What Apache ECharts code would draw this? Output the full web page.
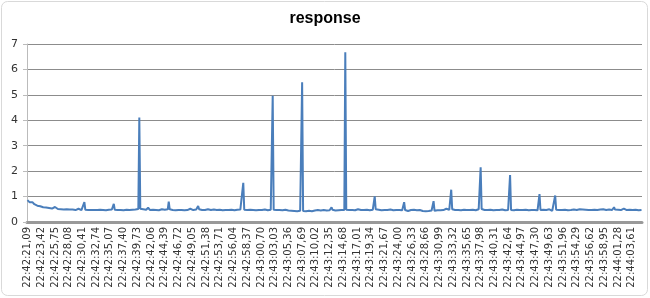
<!DOCTYPE html>
<html><head><meta charset="utf-8">
<script src="https://cdn.jsdelivr.net/npm/echarts@6/dist/echarts.min.js"></script>
<style>html,body{margin:0;padding:0;background:#fff}#c{width:650px;height:298px}</style>
</head><body><div id="c"></div>
<script>
var chartTitle = 'response';
var tickLabels = ['22:42:21,09','22:42:23,42','22:42:25,75','22:42:28,08','22:42:30,41','22:42:32,74','22:42:35,07','22:42:37,40','22:42:39,73','22:42:42,06','22:42:44,39','22:42:46,72','22:42:49,05','22:42:51,38','22:42:53,71','22:42:56,04','22:42:58,37','22:43:00,70','22:43:03,03','22:43:05,36','22:43:07,69','22:43:10,02','22:43:12,35','22:43:14,68','22:43:17,01','22:43:19,34','22:43:21,67','22:43:24,00','22:43:26,33','22:43:28,66','22:43:30,99','22:43:33,32','22:43:35,65','22:43:37,98','22:43:40,31','22:43:42,64','22:43:44,97','22:43:47,30','22:43:49,63','22:43:51,96','22:43:54,29','22:43:56,62','22:43:58,95','22:44:01,28','22:44:03,61'];
var samplesPerTick = 14;
var yTicks = [0,1,2,3,4,5,6,7];
var response = [
0.86,0.84,0.78,0.80,0.84,0.78,0.72,0.70,0.68,0.66,0.64,0.63,0.67,0.62,0.60,0.59,0.58,0.57,0.62,0.57,
0.56,0.55,0.55,0.54,0.54,0.53,0.53,0.52,0.59,0.52,0.52,0.51,0.51,0.50,0.50,0.50,0.52,0.49,0.49,0.50,
0.50,0.48,0.48,0.49,0.55,0.48,0.49,0.48,0.48,0.47,0.47,0.48,0.52,0.47,0.48,0.47,0.47,0.46,0.78,0.48,
0.49,0.48,0.47,0.46,0.46,0.47,0.48,0.47,0.47,0.46,0.46,0.47,0.47,0.48,0.48,0.46,0.46,0.47,0.47,0.46,
0.46,0.47,0.47,0.48,0.48,0.49,0.49,0.48,0.71,0.48,0.48,0.47,0.47,0.46,0.46,0.47,0.47,0.46,0.46,0.47,
0.47,0.48,0.48,0.47,0.47,0.46,0.46,0.48,0.48,0.49,0.49,0.50,0.50,0.51,4.11,0.52,0.52,0.50,0.50,0.55,
0.55,0.48,0.48,0.56,0.56,0.47,0.47,0.48,0.48,0.52,0.52,0.47,0.47,0.46,0.46,0.47,0.47,0.50,0.50,0.48,
0.48,0.49,0.49,0.50,0.80,0.50,0.50,0.47,0.47,0.48,0.48,0.46,0.46,0.47,0.47,0.50,0.50,0.47,0.47,0.46,
0.46,0.48,0.48,0.47,0.47,0.52,0.52,0.48,0.48,0.47,0.47,0.49,0.49,0.50,0.63,0.50,0.50,0.47,0.47,0.48,
0.48,0.47,0.47,0.50,0.50,0.48,0.48,0.47,0.47,0.49,0.49,0.50,0.50,0.47,0.47,0.48,0.48,0.47,0.47,0.46,
0.46,0.47,0.47,0.49,0.49,0.47,0.47,0.48,0.48,0.47,0.47,0.46,0.46,0.48,0.48,0.47,0.47,0.49,0.49,0.48,
1.54,0.48,0.48,0.47,0.47,0.50,0.50,0.48,0.48,0.47,0.47,0.48,0.48,0.46,0.46,0.47,0.47,0.48,0.48,0.47,
0.47,0.49,0.49,0.47,0.47,0.46,0.46,0.48,0.48,0.47,4.96,0.48,0.48,0.47,0.47,0.49,0.49,0.47,0.47,0.46,
0.46,0.47,0.47,0.48,0.48,0.45,0.45,0.46,0.46,0.44,0.44,0.43,0.43,0.45,0.45,0.42,0.42,0.44,0.44,0.43,
5.50,0.43,0.43,0.42,0.42,0.45,0.45,0.44,0.44,0.42,0.42,0.46,0.46,0.45,0.45,0.47,0.47,0.46,0.46,0.45,
0.45,0.47,0.47,0.46,0.46,0.45,0.45,0.46,0.46,0.52,0.58,0.48,0.48,0.45,0.45,0.44,0.44,0.46,0.46,0.47,
0.47,0.46,0.46,0.47,6.68,0.48,0.48,0.47,0.47,0.50,0.50,0.47,0.47,0.46,0.46,0.48,0.48,0.50,0.50,0.47,
0.47,0.46,0.46,0.47,0.47,0.48,0.48,0.47,0.47,0.46,0.46,0.48,0.48,0.49,1.01,0.50,0.50,0.48,0.48,0.47,
0.47,0.46,0.46,0.47,0.47,0.48,0.48,0.47,0.47,0.49,0.49,0.47,0.47,0.46,0.46,0.47,0.47,0.48,0.48,0.47,
0.47,0.46,0.46,0.47,0.78,0.47,0.47,0.43,0.43,0.46,0.46,0.47,0.47,0.48,0.48,0.47,0.47,0.46,0.46,0.47,
0.47,0.46,0.46,0.43,0.43,0.42,0.42,0.44,0.44,0.43,0.43,0.45,0.45,0.44,0.82,0.44,0.44,0.46,0.46,0.47,
0.47,0.46,0.46,0.47,0.47,0.48,0.48,0.52,0.52,0.48,0.48,0.49,1.27,0.50,0.50,0.47,0.47,0.46,0.46,0.47,
0.47,0.46,0.46,0.47,0.47,0.48,0.48,0.47,0.47,0.46,0.46,0.47,0.47,0.48,0.48,0.47,0.47,0.46,0.46,0.50,
0.50,0.51,2.15,0.51,0.51,0.47,0.47,0.46,0.46,0.47,0.47,0.48,0.48,0.47,0.47,0.46,0.46,0.47,0.47,0.48,
0.48,0.47,0.47,0.49,0.49,0.47,0.47,0.46,0.46,0.47,0.47,0.48,1.85,0.47,0.47,0.46,0.46,0.47,0.47,0.48,
0.48,0.47,0.47,0.46,0.46,0.47,0.47,0.48,0.48,0.47,0.47,0.46,0.46,0.47,0.47,0.48,0.48,0.47,0.47,0.46,
0.46,0.47,1.10,0.47,0.47,0.48,0.48,0.46,0.46,0.47,0.47,0.50,0.50,0.46,0.46,0.44,0.44,0.45,1.04,0.48,
0.48,0.47,0.47,0.46,0.46,0.47,0.47,0.48,0.48,0.47,0.47,0.46,0.46,0.47,0.47,0.48,0.48,0.49,0.49,0.47,
0.47,0.48,0.48,0.50,0.50,0.49,0.49,0.52,0.55,0.48,0.48,0.47,0.47,0.49,0.49,0.47,0.47,0.48,0.48,0.50,
0.50,0.47,0.47,0.49,0.49,0.48,0.48,0.50,0.50,0.47,0.47,0.48,0.48,0.49,0.49,0.47,0.47,0.52,0.58,0.49,
0.49,0.48,0.48,0.50,0.50,0.47,0.47,0.49,0.53,0.49,0.49,0.47,0.47,0.48,0.48,0.46,0.46,0.47,0.47,0.48,
0.48,0.47,0.47,0.46,0.46,0.47,0.47
];
// category names: each tick label covers samplesPerTick samples
var categories = response.map(function(v,i){
  var t = Math.floor(i / samplesPerTick);
  var k = i % samplesPerTick;
  return k === 0 && t < tickLabels.length ? tickLabels[t] : ('s' + i);
});
var chart = echarts.init(document.getElementById('c'), null, {renderer:'canvas'});
chart.setOption({
  animation: false,
  backgroundColor: '#fff',
  title: {text: chartTitle, left: 'center', top: 6,
    textStyle: {fontFamily: 'Liberation Sans', fontSize: 16, fontWeight: 'bold', color: '#000'}},
  graphic: [{type:'rect', shape:{x:1.5,y:1.5,width:646,height:294,r:6}, style:{fill:'none', stroke:'#d9d9d9', lineWidth:1}, silent:true, z:-1}],
  grid: {left: 27, right: 8, top: 44, bottom: 76},
  xAxis: {
    type: 'category', data: categories, boundaryGap: true,
    axisLine: {show: true, lineStyle: {color: '#999', width: 3}},
    axisTick: {show: false},
    axisLabel: {rotate: 90, margin: 5, color: '#333', fontFamily: 'DejaVu Sans', fontSize: 10,
      interval: function(i){ return i % samplesPerTick === 0 && i / samplesPerTick < tickLabels.length; }},
    splitLine: {show: false}
  },
  yAxis: {
    type: 'value', min: yTicks[0], max: yTicks[yTicks.length-1], interval: 1,
    axisLine: {show: true, lineStyle: {color: '#bbb', width: 1}},
    axisTick: {show: true, length: 4, lineStyle: {color: '#bbb'}},
    axisLabel: {color: '#333', fontFamily: 'DejaVu Sans', fontSize: 11, margin: 9},
    splitLine: {show: true, lineStyle: {color: '#8c8c8c', width: 1}}
  },
  series: [{
    type: 'line', data: response, symbol: 'none', sampling: null,
    lineStyle: {color: '#4a7ebb', width: 2},
    itemStyle: {color: '#4a7ebb'}
  }]
});
</script></body></html>
